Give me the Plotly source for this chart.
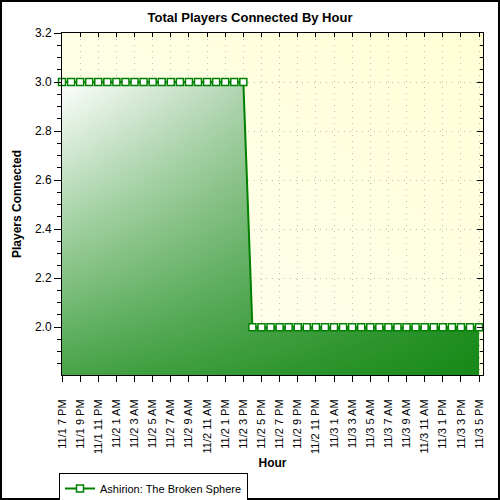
import base64
import pandas as pd
import plotly.graph_objects as go

# hourly samples starting 11/1 7 PM
START = "2009-11-01 19:00"
PLAYERS = [3, 3, 3, 3, 3, 3, 3, 3, 3, 3, 3, 3, 3, 3, 3, 3, 3, 3, 3, 3, 3,
           2, 2, 2, 2, 2, 2, 2, 2, 2, 2, 2, 2, 2, 2, 2, 2, 2, 2, 2, 2, 2, 2, 2, 2, 2, 2]
SERIES = "Ashirion: The Broken Sphere"
Y_RANGE = [1.805, 3.2]

times = pd.date_range(START, periods=len(PLAYERS), freq="h")
x_end = times[-1] + pd.Timedelta(minutes=26)

GREEN = "#008000"
FONT = "Arial, Liberation Sans, sans-serif"
W, H = 500, 500
ML, MR, MT, MB = 62, 17, 33, 125
PW, PH = W - ML - MR, H - MT - MB


def px_x(p):
    return (p - ML) / PW


def px_y(p):
    return (H - MB - p) / PH


# pale yellow plot background
bg_svg = (
    '<svg xmlns="http://www.w3.org/2000/svg" width="100" height="100" preserveAspectRatio="none">'
    '<defs><linearGradient id="g" x1="0" y1="1" x2="1" y2="0">'
    '<stop offset="0" stop-color="#fffff4"/><stop offset="1" stop-color="#ffffd6"/>'
    '</linearGradient></defs><rect width="100" height="100" fill="url(#g)"/></svg>'
)
bg_uri = "data:image/svg+xml;base64," + base64.b64encode(bg_svg.encode()).decode()

fig = go.Figure()

# area fill: horizontal gradient + vertical overlay gives a diagonal look
fig.add_trace(go.Scatter(
    x=times, y=PLAYERS, mode="lines", line=dict(width=0), fill="tozeroy",
    fillgradient=dict(type="horizontal",
                      colorscale=[[0, "rgb(255,255,255)"], [1, "rgb(80,160,80)"]]),
    showlegend=False, hoverinfo="skip"))
fig.add_trace(go.Scatter(
    x=times, y=PLAYERS, mode="lines", line=dict(width=0), fill="tozeroy",
    fillgradient=dict(type="vertical", start=Y_RANGE[0], stop=max(PLAYERS),
                      colorscale=[[0, "rgba(0,128,0,0.72)"], [1, "rgba(0,128,0,0)"]]),
    showlegend=False, hoverinfo="skip"))

fig.add_trace(go.Scatter(
    x=times, y=PLAYERS, mode="lines+markers", name=SERIES,
    line=dict(color=GREEN, width=2),
    marker=dict(symbol="square", size=7, color="white", line=dict(color=GREEN, width=1.5)),
    cliponaxis=False))

# empty trace so the mirrored inside-tick axes get drawn
fig.add_trace(go.Scatter(x=[], y=[], xaxis="x2", yaxis="y2", showlegend=False))

tick_font = dict(family=FONT, size=11, color="black")
grid = dict(showgrid=True, gridcolor="#bdbdbd", griddash="1px,5px", gridwidth=1)
fig.update_layout(
    width=W, height=H,
    margin=dict(l=ML, r=MR, t=MT, b=MB, autoexpand=False),
    paper_bgcolor="white",
    plot_bgcolor="rgba(0,0,0,0)",
    font=dict(family=FONT, color="black"),
    title=dict(text="<b>Total Players Connected By Hour</b>", x=0.5, xanchor="center",
               y=1 - 17 / H, yanchor="middle", font=dict(size=13, color="black")),
    xaxis=dict(
        type="date", range=[times[0], x_end], automargin=False,
        tick0=times[0], dtick=2 * 3600 * 1000, tickformat="%-m/%-d %-I %p",
        tickangle=-90, tickfont=tick_font, ticks="outside", ticklen=6,
        tickcolor="black", ticklabelstandoff=13,
        showline=True, linecolor="black", linewidth=1, mirror=True,
        zeroline=False, **grid,
        title=dict(text="<b>Hour</b>", font=dict(size=12, color="black"), standoff=5),
    ),
    yaxis=dict(
        range=Y_RANGE, dtick=0.2, tick0=2.0, tickformat=".1f", automargin=False,
        tickfont=dict(family=FONT, size=12, color="black"),
        ticks="outside", ticklen=7, tickcolor="black",
        minor=dict(dtick=0.05, ticks="outside", ticklen=4, tickcolor="black", showgrid=False),
        showline=True, linecolor="black", linewidth=1, mirror=True,
        zeroline=False, **grid,
        title=dict(text="<b>Players Connected</b>", font=dict(size=12, color="black"), standoff=10),
    ),
    xaxis2=dict(
        type="date", overlaying="x", side="top", anchor="y", matches="x",
        tick0=times[0], dtick=2 * 3600 * 1000, ticks="inside", ticklen=4,
        tickcolor="black", showticklabels=False, showgrid=False, showline=False,
        zeroline=False, automargin=False,
    ),
    yaxis2=dict(
        overlaying="y", side="right", anchor="x", matches="y",
        dtick=0.2, tick0=2.0, ticks="inside", ticklen=6, tickcolor="black",
        minor=dict(dtick=0.05, ticks="inside", ticklen=3, tickcolor="black", showgrid=False),
        showticklabels=False, showgrid=False, showline=False, zeroline=False,
        automargin=False,
    ),
    legend=dict(
        x=px_x(59), y=px_y(473), xanchor="left", yanchor="top",
        bordercolor="black", borderwidth=1, bgcolor="white",
        font=dict(family=FONT, size=11, color="black"),
        itemwidth=30, tracegroupgap=0,
    ),
    images=[dict(source=bg_uri, xref="paper", yref="paper", x=0, y=1,
                 sizex=1, sizey=1, sizing="stretch", layer="below",
                 xanchor="left", yanchor="top")],
    shapes=[dict(type="rect", xref="paper", yref="paper",
                 x0=px_x(1), x1=px_x(W - 1), y0=px_y(H - 1), y1=px_y(1),
                 line=dict(color="black", width=2), fillcolor="rgba(0,0,0,0)",
                 layer="above")],
    showlegend=True,
)

# drop the browser's default 8px page margin so the figure sits at (0, 0)
fig.write_html("out.html", config={"displayModeBar": False},
               post_script="document.body.style.margin = '0';")
